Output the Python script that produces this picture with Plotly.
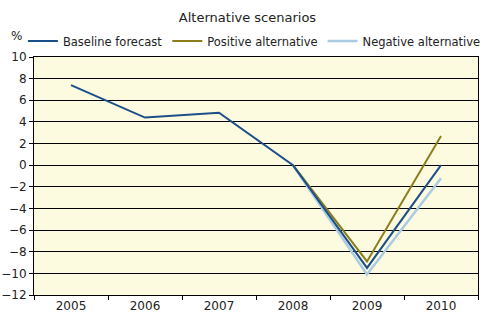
import plotly.graph_objects as go

years = ["2005", "2006", "2007", "2008", "2009", "2010"]
baseline = [7.4, 4.4, 4.85, 0.0, -9.5, 0.0]
positive = [None, None, None, 0.0, -8.9, 2.7]
negative = [None, None, None, 0.0, -10.1, -1.2]
y_ticks = list(range(-12, 11, 2))

fig = go.Figure()
fig.add_trace(go.Scatter(x=years, y=negative, mode="lines", name="Negative alternative",
                         line=dict(color="#A9CBE3", width=2.5)))
fig.add_trace(go.Scatter(x=years, y=positive, mode="lines", name="Positive alternative",
                         line=dict(color="#8C7E1C", width=2)))
fig.add_trace(go.Scatter(x=years, y=baseline, mode="lines", name="Baseline forecast",
                         line=dict(color="#1B4F8A", width=2)))

font = "Verdana, DejaVu Sans, sans-serif"
fig.update_layout(
    width=495, height=321,
    margin=dict(l=34, r=17, t=57, b=26, autoexpand=False),
    paper_bgcolor="white", plot_bgcolor="#FCFADF",
    font=dict(family=font, size=12, color="#222"),
    title=dict(text="Alternative scenarios", x=0.5, xanchor="center", y=0.947, yanchor="middle",
               font=dict(size=13, family=font, color="#222")),
    showlegend=True,
    legend=dict(orientation="h", x=-0.025, xanchor="left",
                y=1.067, yanchor="middle",
                traceorder="reversed", font=dict(size=11.5, family=font),
                bgcolor="rgba(0,0,0,0)", itemwidth=30, tracegroupgap=0),
    xaxis=dict(type="category", range=[-0.5, 5.5], tickson="boundaries", ticks="outside", ticklen=4,
               tickcolor="#000", showgrid=False, showline=True, linecolor="#000",
               linewidth=1, mirror=True, tickfont=dict(size=12)),
    yaxis=dict(range=[-12, 10], tickvals=y_ticks, showgrid=True, gridcolor="#000",
               gridwidth=1, showline=True, linecolor="#000", linewidth=1, mirror=True,
               ticks="outside", ticklen=4, tickcolor="#000", zeroline=False,
               tickfont=dict(size=12)),
    annotations=[dict(text="%", xref="paper", yref="paper", x=-0.04, y=1.09,
                      xanchor="center", yanchor="middle", showarrow=False,
                      font=dict(size=12, family=font))],
)
fig.write_html("out.html")
